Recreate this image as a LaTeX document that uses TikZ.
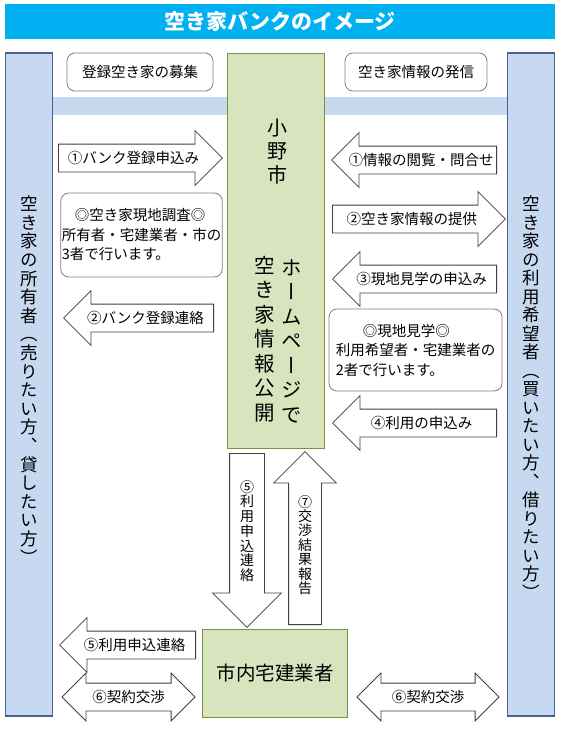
\documentclass[tikz,border=0pt]{standalone}
\usepackage{fontspec}
\setmainfont{Noto Sans CJK JP}
\newfontfamily\tatefont[RawFeature=+vert]{Noto Sans CJK JP}
\usetikzlibrary{shapes.arrows}

\definecolor{titlecyan}{HTML}{00B0F0}
\definecolor{colfill}{HTML}{C6D9F1}
\definecolor{colline}{HTML}{44628C}
\definecolor{boxfill}{HTML}{D7E4BD}
\definecolor{boxline}{HTML}{77933C}
\definecolor{roundline}{HTML}{7F7F7F}
\definecolor{arrowline}{HTML}{404040}

% stack the characters of #2 top to bottom, #1 apart
\makeatletter
\newcommand{\tate}[2]{\vbox{\tatefont\baselineskip=#1\lineskiplimit=-\maxdimen\lineskip=0pt
  \@tfor\tate@c:=#2\do{\hbox to 1em{\hss\tate@c\hss}}}}
\makeatother

\tikzset{
  titlebar/.style={fill=titlecyan, text=white, font=\fontsize{21}{21}\selectfont\bfseries, minimum width=550pt, minimum height=35pt, inner sep=0pt},
  sidecol/.style={draw=colline, fill=colfill, line width=1.5pt, minimum width=47pt, minimum height=663pt, inner sep=0pt},
  greenbox/.style={draw=boxline, fill=boxfill, line width=1.5pt, inner sep=0pt},
  roundbox/.style={draw=roundline, fill=white, rounded corners=8pt, line width=0.8pt, inner sep=1pt, font=\fontsize{14.5}{19.5}\selectfont},
  blockarrow/.style={single arrow, draw=arrowline, fill=white, line width=0.8pt, single arrow head extend=13.5pt, single arrow tip angle=90, font=\fontsize{14.5}{14.5}\selectfont, text height=18.8pt, text depth=8.2pt, inner xsep=2pt, inner ysep=0pt, anchor=tail, minimum height=#1},
  leftarrow/.style={blockarrow=#1, shape border rotate=180},
  bothways/.style={double arrow, draw=arrowline, fill=white, line width=0.8pt, double arrow head extend=10pt, double arrow tip angle=90, font=\fontsize{14.5}{14.5}\selectfont, text height=18.8pt, text depth=8.2pt, inner xsep=2pt, inner ysep=0pt, minimum height=#1},
  uparrow/.style={single arrow, draw=arrowline, fill=white, line width=0.8pt, single arrow tip angle=90, anchor=tail, minimum height=#1},
  tatelabel/.style={font=\fontsize{14}{14}\selectfont, inner sep=0pt},
}

\begin{document}
\begin{tikzpicture}[x=1pt,y=-1pt]
    \useasboundingbox (0,0) rectangle (560,741);
    \fill[colfill] (53,97) rectangle (507,115);

    \node[titlebar] (title) at (280,21.5) {空き家バンクのイメージ};
    \node[sidecol] (owner) at (29,384.5) {};
    \node[sidecol] (user) at (531,384.5) {};
    \node[font=\fontsize{17.5}{17.5}\selectfont, inner sep=0pt] (ownertext) at (29,380) {\tate{18.6pt}{空き家の所有者（売りたい方、貸したい方）}};
    \node[font=\fontsize{17.5}{17.5}\selectfont, inner sep=0pt] (usertext) at (531,397.5) {\tate{18.5pt}{空き家の利用希望者（買いたい方、借りたい方）}};

    \node[roundbox, minimum width=146pt, minimum height=38pt] (recruit) at (140,72) {登録空き家の募集};
    \node[roundbox, minimum width=142pt, minimum height=38pt] (publish) at (416,72) {空き家情報の発信};

    \node[greenbox, minimum width=97pt, minimum height=395pt] (city) at (276,251) {};
    \node[font=\fontsize{20}{20}\selectfont, inner sep=0pt] (ono) at (277,151.5) {\tate{23.5pt}{小野市}};
    \node[font=\fontsize{20.5}{20.5}\selectfont, inner sep=0pt] (hp) at (292,341) {\tate{24.5pt}{ホームページで}};
    \node[font=\fontsize{20.5}{20.5}\selectfont, inner sep=0pt] (open) at (265,339) {\tate{24.5pt}{空き家情報公開}};

    \node[greenbox, minimum width=145pt, minimum height=88pt, font=\fontsize{19.5}{19.5}\selectfont] (agent) at (275,673.5) {市内宅建業者};

    % owner side
    \node[blockarrow=164pt] (apply) at (58,158) {①バンク登録申込み};
    \node[roundbox, minimum width=159pt, minimum height=84pt, align=left] (survey) at (141.5,235)
        {\hspace*{13pt}◎空き家現地調査◎\\所有者・宅建業者・市の\\3者で行います。};
    \node[leftarrow=150pt] (notice) at (214,318) {②バンク登録連絡};
    \node[leftarrow=136pt] (relay) at (196,645) {⑤利用申込連絡};
    \node[bothways=133pt] (dealL) at (128.5,697) {⑥契約交渉};

    % user side
    \node[leftarrow=165pt] (browse) at (497,160) {①情報の閲覧・問合せ};
    \node[blockarrow=173pt] (provide) at (332,219) {②空き家情報の提供};
    \node[leftarrow=164pt] (visitreq) at (497,279) {③現地見学の申込み};
    \node[roundbox, minimum width=173pt, minimum height=82pt, align=left] (visit) at (415.5,350)
        {\hspace*{27pt}◎現地見学◎\\利用希望者・宅建業者の\\2者で行います。};
    \node[leftarrow=164pt] (usereq) at (497,423) {④利用の申込み};
    \node[bothways=142pt] (dealR) at (428,697) {⑥契約交渉};

    % city <-> agent
    \node[uparrow=174pt, shape border rotate=270, inner sep=17pt, single arrow head extend=17pt] (down) at (247,453) {};
    \node[tatelabel] (downtext) at (247,531) {\tate{14.7pt}{⑤利用申込連絡}};
    \node[uparrow=173pt, shape border rotate=90, inner sep=16pt, single arrow head extend=15pt] (up) at (305,625) {};
    \node[tatelabel] (uptext) at (305,545) {\tate{14.4pt}{⑦交渉結果報告}};
\end{tikzpicture}
\end{document}
